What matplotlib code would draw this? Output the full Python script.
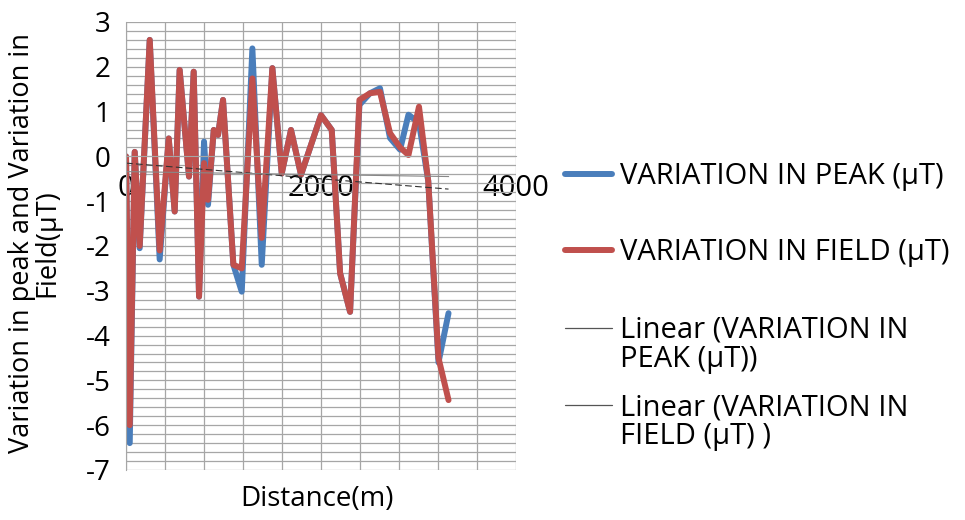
import numpy as np
import matplotlib
matplotlib.use("Agg")
import matplotlib.pyplot as plt
from matplotlib.lines import Line2D
from matplotlib.ticker import MultipleLocator

plt.rcParams['font.family'] = ['Open Sans', 'DejaVu Sans']
plt.rcParams['axes.unicode_minus'] = False

distance = [0, 38, 89, 140, 243, 345, 438, 499, 550, 646, 694, 749, 800, 841, 900, 944, 995,
            1101, 1187, 1296, 1392, 1501, 1597, 1692, 1795, 2000, 2110, 2196, 2298, 2394,
            2503, 2605, 2708, 2811, 2897, 3005, 3100, 3205, 3308]
peak = [0, -6.4, 0.1, -2.05, 2.6, -2.3, 0.4, -1.23, 1.93, -0.45, 1.89, -3.13, 0.33, -1.08,
        0.59, 0.48, 1.26, -2.42, -3.02, 2.41, -2.42, 1.97, -0.38, 0.59, -0.41, 0.92, 0.59,
        -2.61, -3.47, 1.15, 1.41, 1.52, 0.41, 0.15, 0.93, 0.75, -0.55, -4.6, -3.5]
field = [0, -6.0, 0.1, -2.0, 2.6, -2.1, 0.4, -1.23, 1.93, -0.45, 1.89, -3.13, -0.15, -0.97,
         0.59, 0.48, 1.26, -2.42, -2.5, 1.74, -1.82, 1.97, -0.38, 0.59, -0.41, 0.92, 0.59,
         -2.61, -3.47, 1.26, 1.41, 1.44, 0.52, 0.2, 0.03, 1.11, -0.55, -4.5, -5.44]
# linear trend values read at the first and last distance
trend_peak = [-0.15, -0.73]
trend_field = [-0.34, -0.45]

labels = ["VARIATION IN PEAK (µT)", "VARIATION IN FIELD (µT)",
          "Linear (VARIATION IN\nPEAK (µT))", "Linear (VARIATION IN\nFIELD (µT) )"]
x_ticks = [0, 2000, 4000]
y_ticks = list(range(-7, 4))

W, H = 965, 520
x = np.array(distance, dtype=float)
fig = plt.figure(figsize=(W / 100, H / 100), dpi=100)
ax = fig.add_axes([0.1306, 0.0962, 0.4041, 0.8615])

grid_c = '#a6a6a6'
ax.set_xlim(0, 4000)
ax.set_ylim(-7, 3)
ax.xaxis.set_major_locator(MultipleLocator(2000))
ax.xaxis.set_minor_locator(MultipleLocator(400))
ax.yaxis.set_major_locator(MultipleLocator(1))
ax.yaxis.set_minor_locator(MultipleLocator(0.2))
ax.grid(True, which='both', color=grid_c, linewidth=0.9)
ax.set_axisbelow(True)

blue, red = '#4a7ebb', '#c0504d'
ax.plot(x, peak, color=blue, linewidth=4.3, solid_capstyle='round', solid_joinstyle='round')
ax.plot(x, field, color=red, linewidth=4.3, solid_capstyle='round', solid_joinstyle='round')
xs = [distance[0], distance[-1]]
ax.plot(xs, trend_peak, color='#333333', linewidth=0.8, dashes=(6, 3))
ax.plot(xs, trend_field, color='#888888', linewidth=0.8)

for s in ['top', 'right']:
    ax.spines[s].set_visible(False)
ax.spines['bottom'].set_position(('data', 0))
ax.spines['bottom'].set_color(grid_c)
ax.spines['left'].set_color(grid_c)
ax.set_xticks(x_ticks)
ax.set_xticklabels([str(v) for v in x_ticks])
ax.set_yticks(y_ticks)
ax.set_yticklabels([str(v) for v in y_ticks])
ax.tick_params(axis='both', which='both', length=0)
ax.tick_params(axis='x', labelsize=21, pad=13)
ax.tick_params(axis='y', labelsize=20, pad=11)

fig.text(0.328, 0.04, "Distance(m)", ha='center', va='center', fontsize=20)
fig.text(0.036, 0.533, "Variation in peak and Variation in\nField(µT)", ha='center', va='center',
         rotation=90, fontsize=19.5, linespacing=0.85)

# legend (drawn manually to match the spacing of the original)
handle_y = [174, 250, 328, 405]
line_h = 29
handle_style = [(blue, 4.3), (red, 4.3), ('#555555', 0.9), ('#555555', 0.9)]
for lab, hy, (c, lw) in zip(labels, handle_y, handle_style):
    yf = 1 - hy / H
    fig.add_artist(Line2D([565 / W, 612 / W], [yf, yf], transform=fig.transFigure,
                          color=c, linewidth=lw, solid_capstyle='round'))
    extra = lab.count('\n') * line_h
    fig.text(620 / W, 1 - (hy + 10 + extra) / H, lab, ha='left', va='baseline', fontsize=21,
             linespacing=1.0)

fig.savefig('out.png', dpi=100)
